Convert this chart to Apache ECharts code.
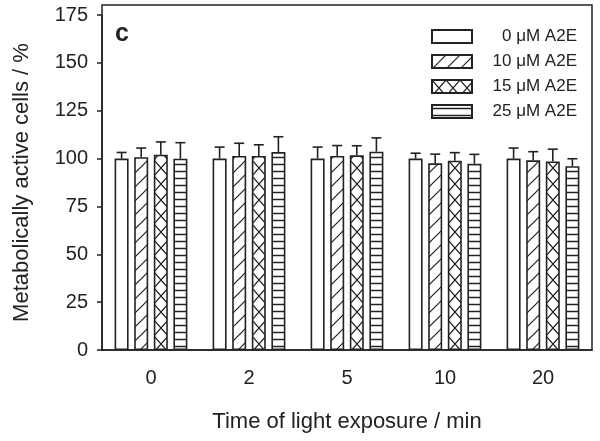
<!DOCTYPE html>
<html>
<head>
<meta charset="utf-8">
<script src="https://cdn.jsdelivr.net/npm/echarts@6/dist/echarts.min.js"></script>
<style>
  html, body { margin: 0; padding: 0; background: #fff; }
  #chart { width: 600px; height: 441px; }
</style>
</head>
<body>
<div id="chart"></div>
<script>
// Time points (x categories) and tick labels
const categories = ['0', '2', '5', '10', '20']
const seriesNames = ['0 μM A2E', '10 μM A2E', '15 μM A2E', '25 μM A2E']

// Mean values, one array per concentration
const values0 = [100, 100, 100, 100, 100]
const values10 = [100.7, 101.4, 101.4, 97.5, 99.1]
const values15 = [102, 101.4, 101.7, 98.9, 98.5]
const values25 = [99.9, 103.4, 103.6, 97.3, 96]

// Error (upper SD) for each bar
const errors0 = [3.2, 6, 6, 2.8, 5.5]
const errors10 = [4.8, 6.6, 5.4, 4.8, 4.5]
const errors15 = [6.7, 5.8, 5, 4.2, 6.4]
const errors25 = [8.4, 8, 7.2, 4.9, 3.9]

const yTicks = [0, 25, 50, 75, 100, 125, 150, 175]

const allValues = [values0, values10, values15, values25]
const allErrors = [errors0, errors10, errors15, errors25]

const INK = '#222'
const FONT = 'Liberation Sans, Arial, sans-serif'

// Hatch fill patterns drawn on small canvases
const makePattern = (kind) => {
  const c = document.createElement('canvas')
  const w = 14
  const h = kind === 'horiz' ? 7 : kind === 'cross' ? 16 : 14
  c.width = w
  c.height = h
  const ctx = c.getContext('2d')
  ctx.fillStyle = '#fff'
  ctx.fillRect(0, 0, w, h)
  ctx.strokeStyle = INK
  ctx.lineWidth = 1.2
  ctx.beginPath()
  if (kind === 'diag') {
    ctx.moveTo(-2, h + 2); ctx.lineTo(w + 2, -2)
    ctx.moveTo(-2, 2); ctx.lineTo(2, -2)
    ctx.moveTo(w - 2, h + 2); ctx.lineTo(w + 2, h - 2)
  } else if (kind === 'cross') {
    ctx.moveTo(0, 0); ctx.lineTo(w, h)
    ctx.moveTo(w, 0); ctx.lineTo(0, h)
  } else if (kind === 'horiz') {
    ctx.lineWidth = 1.5
    ctx.moveTo(0, 3.5); ctx.lineTo(w, 3.5)
  }
  ctx.stroke()
  return { image: c, repeat: 'repeat' }
}

const fills = ['#fff', makePattern('diag'), makePattern('cross'), makePattern('horiz')]

const BAR_W = 14
const PITCH = 19.6

const barSeries = seriesNames.map((name, i) => ({
  name,
  type: 'bar',
  barWidth: BAR_W,
  barGap: '40%',
  data: allValues[i],
  itemStyle: { color: fills[i], borderColor: INK, borderWidth: 1.6 },
  emphasis: { disabled: true },
  z: 2,
}))

// Error bars: upper whisker with cap, placed over each bar
const errorSeries = seriesNames.map((name, i) => ({
  type: 'custom',
  name: name + ' err',
  z: 3,
  silent: true,
  data: allValues[i].map((v, j) => [j, v, v + allErrors[i][j]]),
  renderItem: (params, api) => {
    const base = api.coord([api.value(0), api.value(1)])
    const top = api.coord([api.value(0), api.value(2)])
    const x = base[0] + (i - 1.5) * PITCH
    const cap = 5
    return {
      type: 'group',
      children: [
        { type: 'line', shape: { x1: x, y1: base[1], x2: x, y2: top[1] }, style: { stroke: INK, lineWidth: 1.6 } },
        { type: 'line', shape: { x1: x - cap, y1: top[1], x2: x + cap, y2: top[1] }, style: { stroke: INK, lineWidth: 1.6 } },
      ],
    }
  },
}))

const chart = echarts.init(document.getElementById('chart'))
chart.setOption({
  animation: false,
  backgroundColor: '#fff',
  textStyle: { fontFamily: FONT, color: INK },
  grid: { left: 102, right: 8, top: 15, bottom: 91 },
  legend: {
    data: seriesNames,
    orient: 'vertical',
    right: 18,
    top: 23,
    icon: 'rect',
    itemWidth: 40,
    itemHeight: 13,
    itemGap: 8,
    selectedMode: false,
    formatter: (n) => '{t|' + n + '}',
    textStyle: {
      fontFamily: FONT,
      color: INK,
      rich: { t: { width: 100, align: 'right', fontSize: 17, lineHeight: 20, fontFamily: FONT, color: INK } },
    },
  },
  xAxis: {
    type: 'category',
    data: categories,
    name: 'Time of light exposure / min',
    nameLocation: 'middle',
    nameGap: 61,
    nameTextStyle: { fontSize: 22, color: INK, fontFamily: FONT },
    axisLine: { lineStyle: { color: INK, width: 1.5 } },
    axisTick: { alignWithLabel: true, length: 5, lineStyle: { color: INK, width: 1.5 } },
    axisLabel: { fontSize: 20, color: INK, margin: 18 },
  },
  yAxis: {
    type: 'value',
    min: yTicks[0],
    max: yTicks[yTicks.length - 1],
    interval: 25,
    name: 'Metabolically active cells / %',
    nameLocation: 'middle',
    nameGap: 69,
    nameTextStyle: { fontSize: 22, color: INK, fontFamily: FONT },
    splitLine: { show: false },
    axisLine: { show: true, lineStyle: { color: INK, width: 1.5 } },
    axisTick: { show: true, length: 5, lineStyle: { color: INK, width: 1.5 } },
    axisLabel: { fontSize: 20, color: INK, margin: 14 },
  },
  graphic: [
    {
      type: 'rect',
      shape: { x: 102, y: 5, width: 490, height: 345 },
      style: { fill: 'none', stroke: INK, lineWidth: 1.5 },
      silent: true,
      z: 10,
    },
    {
      type: 'text',
      left: 115,
      top: 22,
      style: { text: 'c', font: 'bold 25px ' + FONT, fill: INK },
      z: 10,
    },
  ],
  series: [...barSeries, ...errorSeries],
})
</script>
</body>
</html>
